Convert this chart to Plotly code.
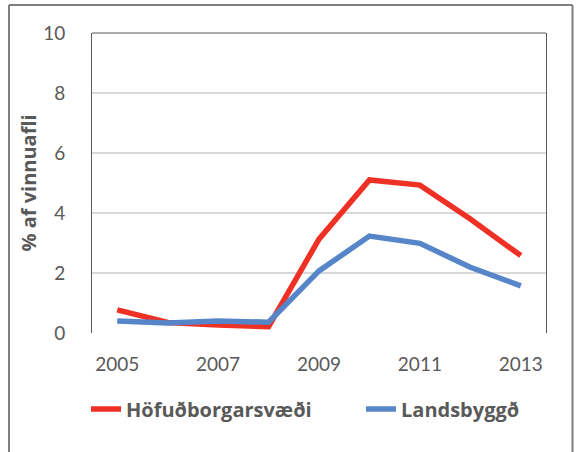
import plotly.graph_objects as go

years = ["2005", "2006", "2007", "2008", "2009", "2010", "2011", "2012", "2013"]
tick_years = ["2005", "2007", "2009", "2011", "2013"]
hofud = [0.77, 0.35, 0.27, 0.21, 3.13, 5.1, 4.93, 3.8, 2.58]
lands = [0.40, 0.33, 0.40, 0.36, 2.07, 3.23, 2.99, 2.19, 1.57]
series_names = ["Höfuðborgarsvæði", "Landsbyggð"]
y_ticks = [0, 2, 4, 6, 8, 10]

FONT = "Lato"
BOLDFONT = "Open Sans"
GRAY = "#595959"

W, H = 578, 452
ml, mr, mt, mb = 92, 32, 33, 119
pw = W - ml - mr
ph = H - mt - mb

def px2paper_x(px):
    return (px - ml) / pw

def px2paper_y(py):
    return (H - mb - py) / ph

fig = go.Figure()
fig.add_trace(go.Scatter(x=years, y=hofud, mode="lines", name=series_names[0],
                         line=dict(color="#EE3124", width=5.5), legend="legend",
                         showlegend=True))
fig.add_trace(go.Scatter(x=years, y=lands, mode="lines", name=series_names[1],
                         line=dict(color="#5686C9", width=5.5), legend="legend2",
                         showlegend=True))

legend_common = dict(orientation="h", xanchor="left", yanchor="middle",
                     y=px2paper_y(409), bgcolor="rgba(0,0,0,0)",
                     font=dict(size=20, color=GRAY, family=BOLDFONT, weight="bold"))

frame = dict(color="#7F7F7F", width=2)
fx0, fx1 = px2paper_x(9), px2paper_x(572.5)
top_off = mt - 5  # pixels above plot top

fig.update_layout(
    width=W, height=H, showlegend=True,
    margin=dict(l=ml, r=mr, t=mt, b=mb, autoexpand=False),
    paper_bgcolor="white", plot_bgcolor="white",
    font=dict(family=FONT, color=GRAY, size=19),
    xaxis=dict(type="category", range=[-0.5, 8.5], tickmode="array",
               tickvals=tick_years, ticktext=tick_years,
               showgrid=False, showline=False, zeroline=False, ticks="",
               ticklabelstandoff=18, tickfont=dict(size=19, color=GRAY, family=FONT)),
    yaxis=dict(range=[0, 10], tickvals=y_ticks, showgrid=True, gridcolor="#D9D9D9",
               gridwidth=1.5, zeroline=False, showline=True, linecolor="#595959",
               linewidth=1, mirror=True, ticks="", ticklabelstandoff=22,
               tickfont=dict(size=19, color=GRAY, family=FONT),
               title=dict(text="% af vinnuafli", standoff=1,
                          font=dict(size=20, color=GRAY, family=BOLDFONT, weight="bold"))),
    legend=dict(x=px2paper_x(86), **legend_common),
    legend2=dict(x=px2paper_x(361), **legend_common),
    shapes=[
        dict(type="line", xref="paper", yref="paper", x0=0, x1=1, y0=1, y1=1,
             line=dict(color="#595959", width=1)),
        dict(type="line", xref="paper", yref="paper", ysizemode="pixel", yanchor=1,
             x0=fx0, x1=fx1, y0=top_off, y1=top_off, line=frame),
        dict(type="line", xref="paper", yref="paper", ysizemode="pixel", yanchor=1,
             x0=fx0, x1=fx0, y0=-500, y1=top_off, line=frame),
        dict(type="line", xref="paper", yref="paper", ysizemode="pixel", yanchor=1,
             x0=fx1, x1=fx1, y0=-500, y1=top_off, line=frame),
    ],
)

fig.write_html("out.html", config={"displayModeBar": False},
               post_script="document.body.style.margin='0';")
